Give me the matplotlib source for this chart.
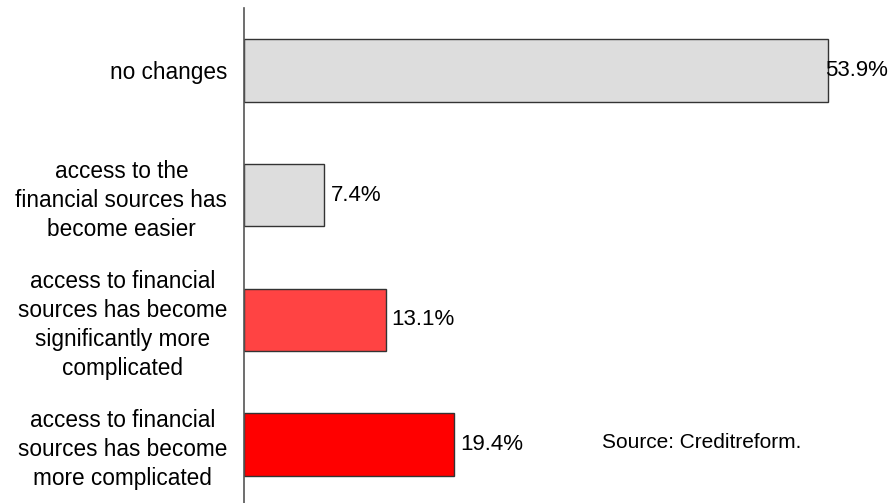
import matplotlib

matplotlib.use("Agg")
import matplotlib.pyplot as plt

# bottom to top, as drawn on the y axis
categories = [
    "access to financial\nsources has become\nmore complicated",
    "access to financial\nsources has become\nsignificantly more\ncomplicated",
    "access to the\nfinancial sources has\nbecome easier",
    "no changes",
]
shares = [19.4, 13.1, 7.4, 53.9]
colors = ["#ff0000", "#ff4343", "#dddddd", "#dddddd"]
value_labels = ["19.4%", "13.1%", "7.4%", "53.9%"]
source_note = "Source: Creditreform."

plt.rcParams["font.family"] = ["Liberation Sans", "DejaVu Sans"]
FS = 16.3

fig = plt.figure(figsize=(8.9, 5.03), dpi=100)
W, H = 890, 503
x_max = 58.0
px_per_pct = 584 / 53.9
ax = fig.add_axes([244 / W, 0, x_max * px_per_pct / W, (H - 8) / H])

y = list(range(len(categories)))
ax.barh(y, shares, height=0.5, color=colors, edgecolor="#333333", linewidth=1.0)
ax.set_xlim(0, x_max)
ax.set_ylim(-0.47, 3.5)

ax.set_yticks(y)
ax.set_yticklabels(categories, fontsize=FS, linespacing=1.33)
for lab in ax.get_yticklabels():
    lab.set_multialignment("center")
ax.tick_params(axis="y", length=0, pad=12)
ax.set_xticks([])

for s in ("top", "right", "bottom"):
    ax.spines[s].set_visible(False)
ax.spines["left"].set_color("#555555")
ax.spines["left"].set_linewidth(1.2)

# the longest bar's label sits slightly over the bar end
offsets = [4, 4, 5, -2]
for yi, v, txt, off in zip(y, shares, value_labels, offsets):
    ax.annotate(txt, xy=(v, yi), xytext=(off, 0), textcoords="offset points",
                ha="left", va="center", fontsize=16)

fig.text(602 / W, 1 - 442 / H, source_note, ha="left", va="center", fontsize=15)

fig.savefig("out.png", dpi=100)
